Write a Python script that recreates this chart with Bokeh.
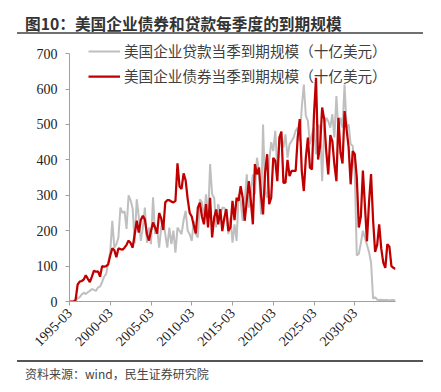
from bokeh.plotting import figure
from bokeh.models import Range1d, FixedTicker, Legend, LegendItem, Div
from bokeh.layouts import column
from bokeh.embed import file_html
from bokeh.resources import INLINE
import math

# ---- data (quarterly, 1995-03 .. 2035-03) ----
tick_pos = [0, 20, 40, 60, 80, 100, 120, 140]
tick_labels = ["1995-03", "2000-03", "2005-03", "2010-03", "2015-03", "2020-03", "2025-03", "2030-03"]
y_ticks = [0, 100, 200, 300, 400, 500, 600, 700]

loans = [0, 0, 0, 0, 10, 12, 20, 25, 21, 26, 30, 35, 33, 30, 40, 42, 55, 70, 78, 110,
         140, 228, 152, 162, 180, 265, 250, 255, 205, 300, 285, 262, 165, 289, 240, 171, 209, 265, 166, 209,
         162, 294, 190, 209, 152, 209, 230, 190, 152, 209, 162, 200, 138, 209, 200, 190, 230, 256, 200, 190,
         171, 228, 190, 181, 289, 280, 237, 303, 228, 388, 303, 293, 209, 275, 246, 265, 265, 237, 190, 237,
         166, 218, 171, 303, 284, 228, 284, 359, 265, 303, 359, 303, 406, 369, 246, 500, 312, 293, 397, 450,
         425, 482, 369, 444, 463, 435, 472, 406, 444, 453, 463, 482, 491, 453, 548, 613, 524, 510, 444, 472,
         491, 416, 500, 491, 340, 491, 519, 510, 491, 529, 463, 580, 480, 519, 491, 613, 491, 500, 444, 440,
         365, 130, 135, 165, 200, 180, 160, 140, 110, 8, 12, 5, 4, 5, 4, 4, 4, 3, 4, 4, 3]

bonds = [0, 0, 0, 5, 48, 56, 58, 62, 74, 64, 55, 70, 87, 84, 85, 70, 100, 98, 100, 105,
         130, 150, 145, 125, 150, 148, 146, 152, 160, 172, 165, 152, 190, 228, 195, 230, 242, 232, 190, 172,
         200, 223, 209, 192, 250, 235, 202, 280, 286, 286, 282, 280, 284, 390, 325, 318, 362, 342, 290, 250,
         240, 215, 192, 265, 279, 240, 218, 275, 209, 293, 181, 237, 260, 218, 261, 199, 237, 261, 199, 209,
         284, 230, 293, 284, 326, 293, 228, 284, 340, 284, 218, 388, 359, 378, 300, 246, 365, 416, 275, 293,
         406, 397, 340, 463, 480, 335, 336, 400, 354, 369, 369, 369, 463, 515, 369, 312, 406, 463, 378, 373,
         529, 632, 401, 440, 548, 515, 425, 359, 470, 453, 387, 340, 519, 420, 390, 538, 486, 435, 331, 425,
         416, 350, 209, 240, 370, 270, 170, 280, 360, 230, 140, 160, 218, 150, 110, 95, 162, 155, 100, 95, 92]

legend_labels = ["美国企业贷款当季到期规模（十亿美元）", "美国企业债券当季到期规模（十亿美元）"]
title_text = "图10：美国企业债券和贷款每季度的到期规模"
source_text = "资料来源：wind，民生证券研究院"

x = list(range(len(loans)))

# ---- figure ----
p = figure(width=425, height=322, x_range=Range1d(0, 160), y_range=Range1d(0, 740),
           output_backend="svg", toolbar_location=None,
           min_border_left=61, min_border_right=38, min_border_top=3, min_border_bottom=57)
p.outline_line_color = None
p.xgrid.visible = False
p.ygrid.visible = False
p.background_fill_color = "white"
p.border_fill_color = "white"

r_loan = p.line(x, loans, line_color="#BFBFBF", line_width=2)
r_bond = p.line(x, bonds, line_color="#C00000", line_width=2.25)

ax_col = "#A0A0A0"
for ax in (p.xaxis[0], p.yaxis[0]):
    ax.axis_line_color = ax_col
    ax.major_tick_line_color = ax_col
    ax.minor_tick_line_color = None
    ax.major_tick_in = 0
    ax.major_tick_out = 4
    ax.major_label_text_font = "Liberation Serif"
    ax.major_label_text_color = "#222222"

p.yaxis.ticker = FixedTicker(ticks=y_ticks)
p.yaxis.bounds = (0, 700)
p.yaxis.major_label_text_font_size = "14px"
p.yaxis.major_label_standoff = 8

p.xaxis.ticker = FixedTicker(ticks=tick_pos)
p.xaxis.major_label_overrides = {t: l for t, l in zip(tick_pos, tick_labels)}
p.xaxis.major_label_orientation = math.pi / 4
p.xaxis.major_label_text_font_size = "14px"
p.xaxis.major_label_standoff = 5

legend = Legend(items=[LegendItem(label=legend_labels[0], renderers=[r_loan]),
                       LegendItem(label=legend_labels[1], renderers=[r_bond])],
                location=(19, 215))
legend.label_text_font = "Noto Sans CJK SC"
legend.label_text_font_size = "14.6px"
legend.label_text_color = "#404040"
legend.label_standoff = 4
legend.glyph_width = 32
legend.glyph_height = 20
legend.label_height = 20
legend.spacing = 4
legend.padding = 0
legend.margin = 0
legend.border_line_color = None
legend.background_fill_alpha = 0
p.add_layout(legend)

title_html = (
    '<div style="position:relative;width:425px;height:28px;">'
    '<div style="position:absolute;left:17px;top:7px;font-family:\'Noto Sans CJK SC\';'
    'font-weight:bold;font-size:15.7px;line-height:18px;color:#333333;white-space:nowrap;">'
    + title_text +
    '</div>'
    '<div style="position:absolute;left:9px;top:24px;width:406px;height:2px;background:#707070;"></div>'
    '</div>'
)
source_html = (
    '<div style="position:relative;width:425px;height:26px;">'
    '<div style="position:absolute;left:9px;top:2px;width:406px;height:1.5px;background:#555555;"></div>'
    '<div style="position:absolute;left:17px;top:9px;font-family:\'Noto Sans CJK SC\';'
    'font-size:12px;line-height:14px;color:#444444;white-space:nowrap;">'
    + source_text +
    '</div>'
    '</div>'
)

title_div = Div(text=title_html, width=425, height=28, margin=0)
source_div = Div(text=source_html, width=425, height=26, margin=0)
p.margin = 0

layout = column(title_div, p, source_div, spacing=0, margin=(8, 8, 8, 8))

open("out.html", "w").write(file_html(layout, INLINE))
